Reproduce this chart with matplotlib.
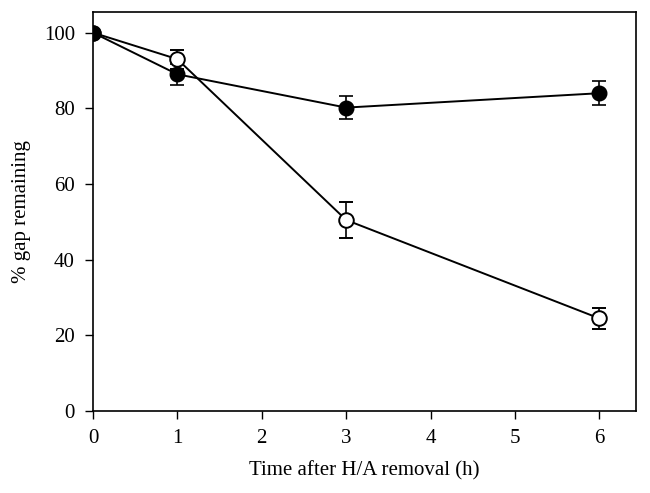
import matplotlib.pyplot as plt

plt.rcParams['font.family'] = ['Liberation Serif', 'DejaVu Serif']

time_h = [0, 1, 3, 6]
open_gap = [100, 93, 50.5, 24.5]
open_err = [0.5, 2.5, 4.8, 2.7]
filled_gap = [100, 89, 80.2, 84]
filled_err = [0.5, 2.8, 3.0, 3.2]

fig = plt.figure(figsize=(6.5, 4.93), dpi=100)
ax = fig.add_axes([0.143, 0.166, 0.835, 0.81])

ax.errorbar(time_h, open_gap, yerr=open_err, color='black', marker='o',
            markersize=10.5, markerfacecolor='white', markeredgewidth=1.4,
            linewidth=1.4, capsize=5, elinewidth=1.2, capthick=1.2)
ax.errorbar(time_h, filled_gap, yerr=filled_err, color='black', marker='o',
            markersize=10.5, markerfacecolor='black', linewidth=1.4,
            capsize=5, elinewidth=1.2, capthick=1.2)

ax.set_xlim(0, 6.43)
ax.set_ylim(0, 105.5)
ax.set_xticks(range(7))
ax.set_yticks(range(0, 101, 20))
ax.tick_params(direction='out', length=6, width=1, labelsize=15, pad=7)
for s in ax.spines.values():
    s.set_linewidth(1.2)

ax.set_xlabel('Time after H/A removal (h)', fontsize=15, labelpad=9)
ax.set_ylabel('% gap remaining', fontsize=15, labelpad=9)

fig.savefig('out.png', dpi=100)
